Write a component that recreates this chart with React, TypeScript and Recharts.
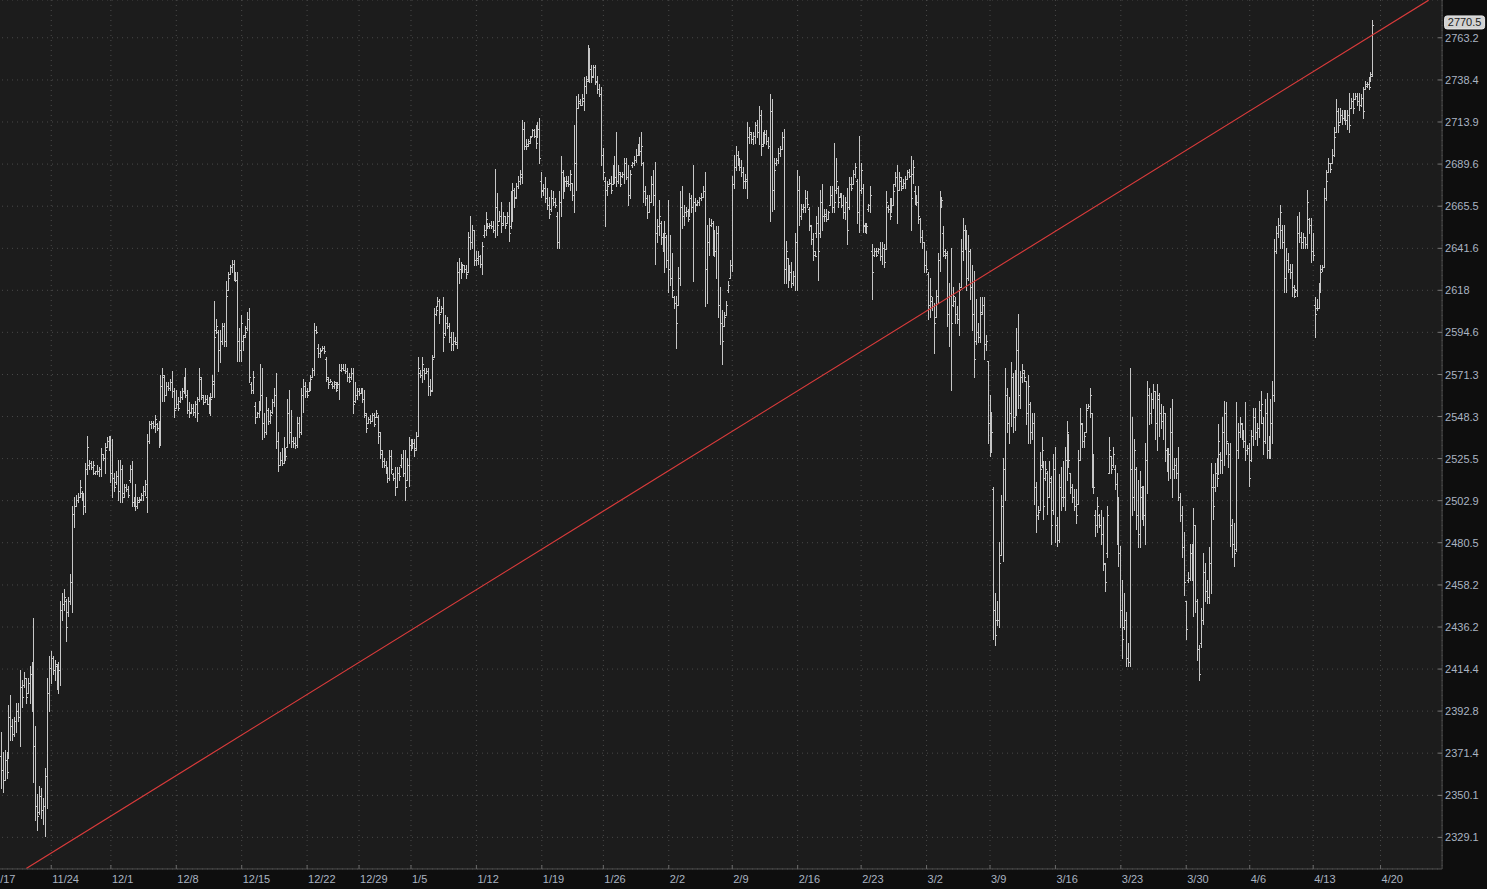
import React from "react";
import {
  ComposedChart,
  Bar,
  XAxis,
  YAxis,
  CartesianGrid,
  ReferenceLine,
} from "recharts";

// hourly bars, [open, high, low, close]
const novBars = [
  [2370, 2382, 2354, 2363], [2363, 2372, 2352, 2358], [2358, 2373, 2358, 2368], [2368, 2372, 2359, 2362],
  [2370, 2396, 2369, 2390], [2390, 2401, 2378, 2385], [2385, 2389, 2378, 2381], [2381, 2390, 2380, 2388],
  [2388, 2397, 2382, 2393], [2393, 2397, 2388, 2390], [2390, 2414, 2375, 2405], [2405, 2409, 2395, 2400],
  [2406, 2413, 2405, 2410], [2410, 2410, 2397, 2400], [2402, 2410, 2402, 2407], [2407, 2416, 2397, 2412],
  [2412, 2418, 2393, 2400], [2400, 2441, 2357, 2375], [2375, 2385, 2338, 2345], [2345, 2351, 2333, 2340],
  [2342, 2355, 2341, 2350], [2350, 2354, 2339, 2343], [2343, 2349, 2336, 2345], [2345, 2364, 2330, 2360],
  [2360, 2410, 2344, 2402], [2402, 2421, 2393, 2415], [2415, 2424, 2407, 2420], [2420, 2421, 2412, 2414],
  [2414, 2419, 2409, 2417], [2416, 2417, 2404, 2410], [2410, 2418, 2402, 2414], [2414, 2450, 2406, 2445],
  [2445, 2454, 2440, 2448], [2448, 2456, 2445, 2452], [2450, 2451, 2429, 2436], [2444, 2452, 2442, 2450],
  [2450, 2464, 2448, 2460], [2460, 2500, 2444, 2496], [2496, 2505, 2489, 2500], [2500, 2506, 2500, 2503],
  [2503, 2507, 2502, 2505], [2505, 2514, 2505, 2510], [2507, 2508, 2503, 2505], [2505, 2507, 2496, 2500],
  [2500, 2523, 2497, 2520], [2520, 2538, 2517, 2532], [2522, 2525, 2520, 2523], [2523, 2524, 2520, 2521],
  [2521, 2524, 2517, 2522], [2518, 2519, 2517, 2519], [2519, 2522, 2517, 2519], [2519, 2521, 2516, 2520],
  [2520, 2531, 2516, 2528], [2528, 2528, 2525, 2526], [2526, 2534, 2518, 2530], [2532, 2537, 2532, 2535],
  [2535, 2538, 2530, 2536], [2536, 2538, 2513, 2518],
];

const decBars = [
  [2518, 2536, 2505, 2515], [2515, 2518, 2508, 2510], [2513, 2519, 2512, 2516], [2516, 2525, 2503, 2508],
  [2508, 2525, 2502, 2520], [2520, 2522, 2502, 2505], [2507, 2512, 2505, 2510], [2510, 2512, 2508, 2509],
  [2509, 2511, 2505, 2506], [2514, 2522, 2513, 2520], [2520, 2524, 2500, 2502], [2502, 2505, 2500, 2504],
  [2504, 2512, 2498, 2500], [2500, 2505, 2499, 2503], [2502, 2505, 2502, 2503], [2504, 2507, 2503, 2506],
  [2506, 2511, 2503, 2508], [2508, 2514, 2506, 2512], [2505, 2539, 2497, 2535], [2535, 2546, 2534, 2544],
  [2544, 2546, 2542, 2545], [2545, 2546, 2542, 2543], [2543, 2549, 2540, 2547], [2544, 2545, 2541, 2542],
  [2542, 2546, 2532, 2535], [2535, 2571, 2533, 2565], [2565, 2575, 2557, 2571], [2570, 2571, 2557, 2560],
  [2560, 2567, 2560, 2565], [2565, 2567, 2563, 2564], [2564, 2569, 2563, 2567], [2567, 2573, 2559, 2562],
  [2562, 2564, 2548, 2552], [2553, 2563, 2553, 2555], [2555, 2559, 2552, 2553], [2557, 2562, 2556, 2559],
  [2559, 2564, 2558, 2562], [2562, 2570, 2561, 2567], [2567, 2575, 2559, 2560], [2560, 2563, 2550, 2552],
  [2552, 2556, 2548, 2550], [2551, 2555, 2550, 2553], [2553, 2555, 2549, 2551], [2551, 2557, 2548, 2555],
  [2555, 2559, 2546, 2550], [2558, 2575, 2557, 2570], [2569, 2570, 2558, 2560], [2559, 2560, 2555, 2556],
  [2556, 2560, 2556, 2558], [2558, 2560, 2555, 2555], [2555, 2559, 2550, 2552], [2552, 2561, 2549, 2558],
  [2559, 2571, 2559, 2568], [2566, 2612, 2559, 2592], [2596, 2602, 2594, 2598], [2595, 2596, 2573, 2585],
  [2585, 2596, 2578, 2590], [2590, 2600, 2588, 2598], [2598, 2600, 2587, 2590], [2590, 2623, 2587, 2615],
  [2618, 2628, 2618, 2625], [2627, 2632, 2627, 2631], [2631, 2635, 2628, 2633], [2633, 2635, 2624, 2626],
  [2626, 2628, 2623, 2624], [2624, 2628, 2579, 2590], [2590, 2597, 2579, 2585], [2585, 2604, 2579, 2600],
  [2590, 2593, 2585, 2592], [2593, 2598, 2592, 2595], [2597, 2606, 2596, 2602], [2602, 2608, 2567, 2570],
  [2566, 2567, 2561, 2563], [2563, 2573, 2561, 2570], [2554, 2556, 2545, 2548], [2548, 2551, 2548, 2550],
  [2550, 2557, 2548, 2555], [2555, 2577, 2552, 2560], [2560, 2575, 2536, 2545], [2545, 2550, 2537, 2540],
  [2540, 2559, 2539, 2552], [2552, 2553, 2544, 2546], [2546, 2552, 2545, 2549], [2551, 2558, 2550, 2556],
  [2556, 2564, 2554, 2560], [2560, 2572, 2531, 2535], [2535, 2540, 2519, 2522], [2522, 2529, 2522, 2525],
  [2525, 2531, 2522, 2523], [2523, 2537, 2523, 2530], [2530, 2531, 2525, 2527], [2532, 2558, 2532, 2550],
  [2550, 2563, 2534, 2540], [2540, 2552, 2532, 2535], [2535, 2537, 2532, 2534], [2534, 2537, 2531, 2533],
  [2533, 2548, 2532, 2545], [2545, 2548, 2537, 2540], [2540, 2564, 2539, 2560], [2560, 2569, 2551, 2565],
  [2565, 2567, 2559, 2562], [2562, 2564, 2559, 2560], [2562, 2567, 2562, 2565], [2565, 2571, 2563, 2569],
  [2570, 2575, 2570, 2574], [2574, 2600, 2571, 2596], [2596, 2598, 2594, 2595], [2586, 2588, 2581, 2583],
  [2583, 2586, 2581, 2584], [2585, 2587, 2585, 2586], [2586, 2587, 2583, 2584], [2580, 2581, 2568, 2570],
  [2569, 2570, 2564, 2566], [2567, 2569, 2567, 2568], [2566, 2567, 2564, 2565], [2565, 2568, 2564, 2567],
  [2566, 2567, 2562, 2563], [2564, 2567, 2564, 2566], [2566, 2577, 2558, 2574], [2574, 2577, 2573, 2575],
  [2575, 2577, 2574, 2574], [2574, 2577, 2572, 2573], [2573, 2575, 2568, 2570], [2570, 2572, 2567, 2568],
  [2570, 2575, 2569, 2572], [2572, 2575, 2550, 2555], [2557, 2567, 2556, 2560], [2560, 2564, 2558, 2562],
  [2562, 2564, 2560, 2561], [2561, 2564, 2561, 2563], [2563, 2564, 2556, 2558], [2558, 2563, 2548, 2550],
  [2549, 2550, 2540, 2542], [2545, 2548, 2545, 2547], [2547, 2549, 2545, 2546], [2546, 2550, 2546, 2549],
  [2549, 2550, 2543, 2544], [2548, 2552, 2548, 2550], [2548, 2549, 2534, 2540], [2538, 2540, 2526, 2530],
  [2528, 2530, 2521, 2524], [2524, 2526, 2521, 2522], [2522, 2524, 2518, 2520], [2520, 2521, 2513, 2515],
  [2515, 2530, 2514, 2527], [2527, 2530, 2518, 2520], [2517, 2518, 2514, 2515], [2515, 2521, 2506, 2510],
  [2510, 2521, 2510, 2518], [2518, 2521, 2514, 2516], [2522, 2528, 2521, 2526], [2526, 2530, 2516, 2518],
  [2518, 2530, 2503, 2510], [2514, 2526, 2514, 2522],
];

const janBars = [
  [2522, 2537, 2511, 2533], [2533, 2536, 2530, 2531], [2532, 2536, 2532, 2534], [2534, 2536, 2527, 2530],
  [2531, 2540, 2530, 2538], [2538, 2581, 2538, 2575], [2572, 2574, 2570, 2571], [2571, 2581, 2567, 2577],
  [2574, 2575, 2569, 2572], [2572, 2575, 2572, 2573], [2573, 2575, 2560, 2565], [2565, 2569, 2560, 2562],
  [2563, 2582, 2562, 2580], [2581, 2608, 2581, 2605], [2605, 2609, 2604, 2607], [2609, 2614, 2609, 2612],
  [2612, 2613, 2600, 2605], [2606, 2609, 2606, 2608], [2608, 2614, 2584, 2592], [2594, 2604, 2593, 2600],
  [2600, 2603, 2597, 2598], [2598, 2600, 2589, 2592], [2592, 2595, 2585, 2588], [2588, 2595, 2585, 2590],
  [2590, 2592, 2588, 2589], [2588, 2634, 2586, 2628], [2628, 2636, 2622, 2630], [2630, 2634, 2625, 2628],
  [2629, 2633, 2628, 2632], [2632, 2632, 2628, 2630], [2630, 2632, 2625, 2627], [2628, 2651, 2628, 2648],
  [2648, 2660, 2641, 2645], [2645, 2655, 2642, 2652], [2652, 2652, 2632, 2635], [2635, 2640, 2632, 2636],
  [2635, 2640, 2633, 2637], [2637, 2638, 2631, 2633], [2633, 2645, 2627, 2643], [2649, 2655, 2648, 2652],
  [2652, 2662, 2649, 2658], [2655, 2656, 2653, 2654], [2654, 2656, 2653, 2655], [2655, 2657, 2653, 2654],
  [2654, 2657, 2651, 2652], [2652, 2687, 2648, 2665], [2665, 2673, 2649, 2655], [2657, 2663, 2657, 2660],
  [2660, 2668, 2651, 2655], [2656, 2662, 2655, 2660], [2660, 2660, 2653, 2655], [2656, 2662, 2656, 2660],
  [2660, 2668, 2646, 2650], [2654, 2674, 2653, 2670], [2668, 2679, 2657, 2675], [2675, 2676, 2665, 2670],
  [2671, 2679, 2670, 2677], [2677, 2683, 2676, 2680], [2680, 2686, 2678, 2684], [2682, 2715, 2679, 2710],
  [2710, 2714, 2698, 2700], [2700, 2704, 2698, 2701], [2700, 2704, 2700, 2702], [2703, 2706, 2702, 2705],
  [2706, 2710, 2706, 2709], [2709, 2710, 2705, 2706], [2706, 2712, 2699, 2702], [2705, 2714, 2705, 2710],
  [2710, 2716, 2690, 2693], [2680, 2685, 2671, 2675], [2674, 2678, 2672, 2676], [2676, 2682, 2668, 2670],
  [2670, 2676, 2664, 2666], [2666, 2671, 2659, 2661], [2664, 2675, 2663, 2670], [2670, 2674, 2666, 2668],
  [2668, 2670, 2665, 2666], [2660, 2662, 2642, 2645], [2645, 2674, 2642, 2668], [2668, 2694, 2660, 2685],
  [2685, 2686, 2670, 2675], [2675, 2682, 2674, 2680], [2680, 2683, 2677, 2679], [2680, 2683, 2677, 2678],
  [2678, 2686, 2675, 2684], [2679, 2679, 2669, 2672], [2672, 2712, 2662, 2690], [2690, 2729, 2675, 2722],
  [2722, 2730, 2722, 2726], [2725, 2727, 2724, 2724], [2724, 2730, 2724, 2728], [2726, 2740, 2721, 2735],
  [2735, 2741, 2731, 2738], [2739, 2759, 2738, 2755], [2755, 2757, 2737, 2745], [2745, 2747, 2737, 2740],
  [2741, 2747, 2740, 2746], [2746, 2747, 2736, 2738], [2737, 2741, 2731, 2733], [2733, 2736, 2729, 2730],
  [2730, 2734, 2689, 2695], [2695, 2699, 2681, 2685], [2680, 2682, 2654, 2675], [2675, 2680, 2672, 2677],
  [2678, 2681, 2678, 2679], [2679, 2683, 2673, 2675], [2678, 2689, 2678, 2685], [2685, 2694, 2679, 2682],
  [2682, 2708, 2677, 2680], [2680, 2689, 2679, 2685], [2684, 2685, 2677, 2678], [2683, 2685, 2682, 2684],
  [2684, 2693, 2679, 2690], [2690, 2693, 2681, 2682], [2682, 2689, 2666, 2672], [2672, 2686, 2670, 2684],
  [2689, 2691, 2688, 2690], [2690, 2694, 2689, 2692], [2692, 2698, 2691, 2695], [2695, 2701, 2695, 2699],
  [2699, 2705, 2695, 2697], [2697, 2708, 2689, 2700], [2690, 2691, 2668, 2674], [2674, 2677, 2666, 2670],
  [2670, 2672, 2659, 2662], [2662, 2672, 2662, 2668], [2668, 2683, 2668, 2678], [2678, 2686, 2666, 2672],
  [2672, 2691, 2633, 2650], [2650, 2658, 2645, 2654], [2654, 2669, 2649, 2660], [2656, 2657, 2644, 2648],
  [2648, 2650, 2640, 2642], [2642, 2657, 2628, 2650], [2648, 2649, 2631, 2635], [2635, 2669, 2617, 2630],
  [2630, 2649, 2621, 2625], [2625, 2639, 2614, 2618], [2614, 2615, 2608, 2611],
];

const febBars = [
  [2611, 2615, 2586, 2600], [2610, 2631, 2610, 2625], [2625, 2674, 2621, 2665], [2665, 2677, 2653, 2660],
  [2660, 2666, 2655, 2662], [2662, 2665, 2660, 2663], [2663, 2664, 2657, 2658], [2661, 2673, 2660, 2670],
  [2670, 2672, 2662, 2665], [2665, 2689, 2623, 2668], [2668, 2670, 2663, 2666], [2667, 2669, 2666, 2668],
  [2668, 2671, 2666, 2670], [2670, 2673, 2669, 2671], [2671, 2677, 2671, 2674], [2674, 2685, 2609, 2630],
  [2630, 2655, 2611, 2645], [2645, 2659, 2638, 2655], [2655, 2658, 2654, 2656], [2656, 2657, 2638, 2645],
  [2645, 2652, 2637, 2640], [2640, 2654, 2625, 2650], [2650, 2654, 2603, 2610], [2610, 2620, 2588, 2600],
  [2600, 2607, 2577, 2590], [2598, 2606, 2598, 2603], [2604, 2612, 2604, 2610], [2618, 2623, 2617, 2621],
  [2625, 2635, 2625, 2632], [2632, 2683, 2629, 2678], [2678, 2695, 2676, 2688], [2688, 2700, 2686, 2695],
  [2695, 2697, 2689, 2692], [2692, 2693, 2686, 2688], [2688, 2692, 2683, 2685], [2685, 2688, 2676, 2680],
  [2680, 2684, 2676, 2681], [2680, 2714, 2670, 2705], [2705, 2711, 2702, 2708], [2707, 2708, 2702, 2704],
  [2704, 2708, 2701, 2706], [2706, 2714, 2702, 2712], [2712, 2715, 2705, 2708], [2708, 2723, 2701, 2718],
  [2718, 2721, 2695, 2700], [2701, 2708, 2700, 2705], [2705, 2709, 2702, 2707], [2707, 2709, 2701, 2703],
  [2703, 2705, 2699, 2700], [2700, 2730, 2657, 2720], [2720, 2727, 2663, 2675], [2675, 2693, 2664, 2686],
  [2690, 2693, 2689, 2692], [2692, 2699, 2690, 2696], [2696, 2700, 2694, 2698], [2698, 2708, 2698, 2705],
  [2705, 2710, 2622, 2630], [2630, 2646, 2622, 2640], [2636, 2636, 2620, 2625], [2625, 2632, 2624, 2628],
  [2628, 2634, 2620, 2622], [2622, 2629, 2621, 2626], [2626, 2650, 2618, 2645], [2645, 2686, 2618, 2675],
  [2675, 2683, 2655, 2660], [2660, 2667, 2658, 2664], [2664, 2667, 2662, 2665], [2665, 2675, 2662, 2670],
  [2670, 2674, 2665, 2667], [2664, 2665, 2652, 2655], [2654, 2655, 2644, 2647], [2647, 2650, 2635, 2640],
  [2638, 2640, 2637, 2637], [2650, 2660, 2648, 2656], [2656, 2665, 2624, 2640], [2650, 2675, 2648, 2668],
  [2668, 2678, 2652, 2660], [2660, 2664, 2657, 2661], [2660, 2664, 2657, 2658], [2658, 2663, 2658, 2662],
  [2666, 2677, 2666, 2672], [2672, 2677, 2662, 2665], [2665, 2702, 2662, 2668], [2675, 2693, 2673, 2680],
  [2676, 2677, 2665, 2668], [2671, 2673, 2671, 2672], [2672, 2673, 2665, 2666], [2666, 2672, 2659, 2662],
  [2662, 2671, 2658, 2668], [2668, 2676, 2644, 2652], [2665, 2682, 2664, 2678], [2678, 2682, 2675, 2676],
  [2678, 2686, 2678, 2684], [2684, 2690, 2682, 2688], [2680, 2681, 2656, 2662], [2662, 2706, 2651, 2675],
  [2675, 2690, 2673, 2686], [2676, 2678, 2651, 2655], [2654, 2656, 2651, 2652], [2652, 2656, 2650, 2654],
  [2664, 2667, 2663, 2666], [2666, 2677, 2662, 2672], [2640, 2644, 2613, 2628], [2638, 2642, 2637, 2640],
  [2640, 2642, 2637, 2638], [2640, 2642, 2639, 2641], [2641, 2645, 2635, 2637], [2637, 2645, 2633, 2642],
  [2642, 2644, 2631, 2634], [2641, 2674, 2641, 2668], [2665, 2666, 2662, 2664], [2664, 2670, 2658, 2660],
  [2662, 2670, 2662, 2666], [2666, 2678, 2666, 2674], [2678, 2685, 2677, 2682], [2682, 2689, 2656, 2675],
  [2675, 2685, 2675, 2682], [2680, 2682, 2675, 2676], [2677, 2681, 2676, 2679], [2679, 2683, 2676, 2681],
  [2681, 2686, 2681, 2685], [2685, 2687, 2682, 2683], [2683, 2694, 2652, 2670], [2684, 2692, 2679, 2688],
  [2674, 2677, 2667, 2670], [2670, 2672, 2666, 2668], [2668, 2677, 2656, 2660], [2658, 2659, 2645, 2648],
  [2648, 2652, 2642, 2645], [2645, 2645, 2628, 2632], [2632, 2640, 2628, 2630], [2627, 2628, 2602, 2610],
  [2610, 2625, 2603, 2615], [2612, 2614, 2607, 2609], [2609, 2611, 2583, 2600],
];

const marBars = [
  [2603, 2618, 2603, 2615], [2615, 2639, 2611, 2635], [2635, 2674, 2629, 2668], [2666, 2671, 2665, 2669],
  [2650, 2654, 2637, 2640], [2638, 2641, 2636, 2639], [2638, 2640, 2598, 2605], [2605, 2622, 2587, 2615],
  [2615, 2642, 2563, 2600], [2610, 2620, 2609, 2615], [2612, 2614, 2600, 2605], [2605, 2609, 2600, 2602],
  [2602, 2622, 2593, 2618], [2620, 2647, 2620, 2640], [2640, 2659, 2635, 2652], [2652, 2655, 2641, 2645],
  [2645, 2652, 2618, 2625], [2625, 2649, 2624, 2640], [2640, 2641, 2613, 2620], [2620, 2632, 2596, 2605],
  [2605, 2629, 2570, 2580], [2590, 2613, 2588, 2595], [2595, 2600, 2589, 2592], [2592, 2614, 2589, 2605],
  [2606, 2614, 2605, 2610], [2610, 2614, 2580, 2588], [2588, 2593, 2585, 2590], [2579, 2579, 2534, 2545],
  [2545, 2560, 2527, 2535], [2535, 2551, 2529, 2540], [2509, 2510, 2430, 2445], [2445, 2454, 2427, 2432],
  [2440, 2450, 2437, 2440], [2440, 2481, 2436, 2470], [2474, 2506, 2474, 2500], [2500, 2526, 2471, 2520],
  [2520, 2575, 2503, 2560], [2560, 2564, 2540, 2545], [2545, 2559, 2534, 2550], [2550, 2578, 2543, 2570],
  [2570, 2572, 2540, 2548], [2548, 2574, 2541, 2565], [2565, 2597, 2549, 2585], [2585, 2605, 2553, 2560],
  [2560, 2573, 2553, 2570], [2570, 2577, 2567, 2574], [2572, 2574, 2568, 2570], [2568, 2568, 2544, 2550],
  [2550, 2571, 2534, 2565], [2555, 2556, 2534, 2540], [2540, 2550, 2536, 2545], [2545, 2550, 2501, 2510],
  [2510, 2513, 2486, 2495], [2495, 2500, 2493, 2497], [2498, 2529, 2498, 2520], [2522, 2537, 2521, 2530],
  [2522, 2524, 2493, 2500], [2515, 2524, 2514, 2520], [2518, 2519, 2496, 2505], [2505, 2524, 2505, 2515],
  [2513, 2516, 2480, 2490], [2498, 2528, 2496, 2520], [2520, 2532, 2481, 2490], [2490, 2494, 2479, 2482],
  [2482, 2517, 2481, 2510], [2510, 2521, 2498, 2505], [2505, 2524, 2500, 2505], [2505, 2532, 2498, 2525],
  [2525, 2546, 2514, 2540], [2538, 2539, 2521, 2525], [2518, 2518, 2507, 2510], [2510, 2512, 2502, 2505],
  [2505, 2509, 2498, 2500], [2500, 2509, 2491, 2495], [2501, 2530, 2501, 2525], [2525, 2553, 2525, 2545],
  [2544, 2545, 2532, 2535], [2535, 2540, 2532, 2538], [2540, 2555, 2540, 2552], [2553, 2555, 2553, 2554],
  [2554, 2564, 2548, 2560], [2550, 2550, 2510, 2515], [2515, 2528, 2507, 2510], [2495, 2498, 2484, 2490],
  [2490, 2505, 2486, 2500], [2495, 2496, 2489, 2490], [2490, 2498, 2480, 2485], [2485, 2494, 2466, 2470],
  [2469, 2470, 2455, 2460], [2475, 2500, 2473, 2495], [2518, 2537, 2518, 2530], [2527, 2527, 2518, 2520],
  [2522, 2532, 2521, 2528], [2520, 2522, 2509, 2512], [2512, 2518, 2480, 2490], [2490, 2505, 2468, 2475],
  [2475, 2479, 2436, 2445], [2445, 2461, 2420, 2430], [2436, 2454, 2435, 2440], [2440, 2444, 2416, 2420],
  [2420, 2428, 2416, 2418], [2418, 2575, 2416, 2520], [2520, 2548, 2495, 2505], [2505, 2536, 2498, 2530],
  [2520, 2521, 2488, 2495], [2495, 2514, 2478, 2485], [2485, 2519, 2478, 2510], [2505, 2511, 2493, 2500],
  [2500, 2511, 2490, 2495], [2495, 2534, 2480, 2525], [2525, 2568, 2507, 2560], [2560, 2564, 2544, 2550],
  [2550, 2561, 2545, 2558], [2558, 2566, 2553, 2562], [2562, 2562, 2536, 2545], [2545, 2566, 2530, 2560],
  [2558, 2561, 2538, 2550], [2550, 2555, 2542, 2546], [2546, 2554, 2536, 2550], [2550, 2550, 2524, 2530],
  [2530, 2531, 2519, 2524], [2524, 2531, 2514, 2528], [2528, 2553, 2515, 2540], [2540, 2558, 2505, 2520],
  [2520, 2526, 2515, 2522], [2522, 2526, 2515, 2518], [2518, 2532, 2503, 2505], [2505, 2507, 2492, 2495],
  [2495, 2500, 2473, 2478], [2478, 2486, 2453, 2460], [2450, 2450, 2430, 2435], [2461, 2465, 2460, 2462],
  [2462, 2480, 2461, 2475], [2475, 2480, 2461, 2465], [2465, 2499, 2442, 2490], [2490, 2490, 2444, 2450],
  [2450, 2451, 2419, 2425], [2425, 2427, 2409, 2412], [2428, 2446, 2426, 2440],
];

const aprBars = [
  [2440, 2475, 2438, 2465], [2465, 2470, 2450, 2455], [2455, 2461, 2449, 2452], [2452, 2478, 2449, 2470],
  [2470, 2523, 2454, 2510], [2510, 2517, 2493, 2500], [2510, 2523, 2508, 2518], [2518, 2526, 2511, 2515],
  [2518, 2544, 2517, 2535], [2528, 2529, 2518, 2525], [2525, 2548, 2518, 2540], [2540, 2557, 2522, 2550],
  [2550, 2556, 2528, 2535], [2534, 2534, 2521, 2528], [2528, 2534, 2479, 2490], [2490, 2493, 2473, 2480],
  [2480, 2491, 2468, 2475], [2477, 2556, 2476, 2530], [2530, 2545, 2526, 2540], [2540, 2548, 2537, 2545],
  [2544, 2545, 2536, 2540], [2540, 2541, 2532, 2535], [2535, 2556, 2525, 2530], [2530, 2533, 2528, 2531],
  [2531, 2534, 2511, 2515], [2525, 2541, 2524, 2538], [2538, 2553, 2533, 2548], [2548, 2553, 2536, 2540],
  [2540, 2545, 2533, 2542], [2542, 2557, 2537, 2552], [2552, 2562, 2545, 2555], [2545, 2548, 2528, 2535],
  [2535, 2558, 2534, 2550], [2550, 2561, 2526, 2530], [2530, 2538, 2526, 2535], [2535, 2558, 2526, 2545],
  [2545, 2568, 2534, 2560], [2560, 2647, 2557, 2640], [2640, 2654, 2639, 2650], [2650, 2659, 2648, 2655],
  [2655, 2666, 2642, 2662], [2652, 2655, 2642, 2645], [2645, 2655, 2617, 2625], [2625, 2642, 2617, 2635],
  [2635, 2639, 2628, 2630], [2630, 2633, 2625, 2628], [2628, 2633, 2615, 2620], [2620, 2621, 2614, 2615],
  [2617, 2619, 2617, 2618], [2618, 2660, 2615, 2650], [2650, 2662, 2645, 2648], [2648, 2651, 2642, 2645],
  [2645, 2650, 2642, 2648], [2648, 2648, 2642, 2644], [2644, 2675, 2642, 2668], [2658, 2659, 2650, 2655],
  [2655, 2659, 2634, 2640], [2640, 2650, 2635, 2638], [2610, 2614, 2592, 2605], [2608, 2613, 2607, 2608],
  [2608, 2622, 2608, 2618], [2618, 2632, 2617, 2628], [2630, 2632, 2629, 2631], [2631, 2676, 2631, 2670],
  [2670, 2686, 2669, 2680], [2685, 2693, 2685, 2690], [2690, 2690, 2685, 2687], [2690, 2698, 2690, 2695],
  [2695, 2711, 2694, 2705], [2708, 2727, 2708, 2720], [2720, 2722, 2708, 2712], [2714, 2722, 2714, 2718],
  [2718, 2721, 2713, 2716], [2716, 2721, 2715, 2719], [2719, 2721, 2713, 2715], [2715, 2721, 2710, 2718],
  [2718, 2731, 2708, 2712], [2722, 2728, 2722, 2726], [2726, 2731, 2719, 2722], [2727, 2731, 2727, 2729],
  [2729, 2731, 2724, 2726], [2726, 2731, 2721, 2724], [2724, 2730, 2723, 2728], [2728, 2734, 2716, 2720],
  [2733, 2738, 2733, 2736], [2735, 2737, 2734, 2736], [2736, 2740, 2733, 2734], [2739, 2743, 2738, 2741],
  [2742, 2774, 2741, 2770.5],
];

// week starts, as bar positions
const weekIdx = [-7, 26, 57, 91, 125, 159, 186, 213, 247, 281, 313, 347, 380, 414, 447, 481, 514, 548, 582, 616, 649, 682, 717];
const weekLabels = ["11/17", "11/24", "12/1", "12/8", "12/15", "12/22", "12/29", "1/5", "1/12", "1/19", "1/26", "2/2", "2/9", "2/16", "2/23", "3/2", "3/9", "3/16", "3/23", "3/30", "4/6", "4/13", "4/20"];

const yTicks = [2763.2, 2738.4, 2713.9, 2689.6, 2665.5, 2641.6, 2618, 2594.6, 2571.3, 2548.3, 2525.5, 2502.9, 2480.5, 2458.2, 2436.2, 2414.4, 2392.8, 2371.4, 2350.1, 2329.1];

const trendStart = { x: 13, y: 2313.7 };
const trendEnd = { x: 742, y: 2785.5 };

const allBars = [...novBars, ...decBars, ...janBars, ...febBars, ...marBars, ...aprBars];
const data = allBars.map((b, i) => ({ i, o: b[0], h: b[1], l: b[2], c: b[3], range: [b[2], b[1]] }));
const lastClose = data[data.length - 1].c;

const labelColor = "#aab4c2";
const axisColor = "#505050";

function OhlcShape(props: any) {
  const { x, y, width, height, payload } = props;
  if (x == null || y == null || !payload) return null;
  const top = Math.min(y, y + height);
  const bottom = Math.max(y, y + height);
  const lh = Math.log(payload.h);
  const ll = Math.log(payload.l);
  const toY = (v: number) => {
    const cl = Math.min(Math.max(v, payload.l), payload.h);
    return top + ((bottom - top) * (lh - Math.log(cl))) / (lh - ll || 1);
  };
  const cx = Math.round(x + width / 2) + 0.5;
  const yo = Math.round(toY(payload.o)) + 0.5;
  const yc = Math.round(toY(payload.c)) + 0.5;
  return (
    <g stroke="#c6c6c6" strokeWidth={1} shapeRendering="crispEdges">
      <line x1={cx} x2={cx} y1={Math.round(top)} y2={Math.round(bottom) + 1} />
      <line x1={cx - 1.5} x2={cx} y1={yo} y2={yo} />
      <line x1={cx} x2={cx + 1.5} y1={yc} y2={yc} />
    </g>
  );
}

function DateTick(props: any) {
  const { x, y, payload } = props;
  const k = weekIdx.indexOf(payload.value);
  return (
    <g>
      <line x1={x} x2={x} y1={y - 4} y2={y} stroke="#6a6a6a" />
      <text x={x + 1} y={y + 10.5} fill={labelColor} fontSize={11} fontFamily="'Liberation Sans', Arial, sans-serif" dominantBaseline="central">
        {k >= 0 ? weekLabels[k] : ""}
      </text>
    </g>
  );
}

function PriceTick(props: any) {
  const { x, y, payload } = props;
  return (
    <g>
      <line x1={x - 4} x2={x} y1={y} y2={y} stroke="#7a7a7a" />
      <text x={x + 3} y={y} fill={labelColor} fontSize={11} fontFamily="'Liberation Sans', Arial, sans-serif" dominantBaseline="central">
        {String(payload.value)}
      </text>
    </g>
  );
}

function PriceBadge(props: any) {
  const vb = props.viewBox;
  if (!vb) return null;
  const bx = vb.x + vb.width + 2.5;
  const cy = vb.y - 3;
  return (
    <g>
      <rect x={bx} y={cy - 6.5} width={40} height={13} rx={2.5} fill="#d2d2d2" stroke="#e6e6e6" />
      <text x={bx + 20} y={cy} textAnchor="middle" dominantBaseline="central" fill="#1b1b1b" fontSize={11} fontFamily="'Liberation Sans', Arial, sans-serif">
        {lastClose.toFixed(1)}
      </text>
    </g>
  );
}

export default function App() {
  return (
    <div style={{ position: "fixed", left: 0, top: 0, width: 1487, height: 889, background: "#0e0e0e", overflow: "hidden" }}>
      <div style={{ position: "absolute", left: -18.5, top: 0 }}>
        <ComposedChart width={1506.1} height={889} data={data} margin={{ top: 0, right: 0, bottom: 0, left: 0 }}>
          <CartesianGrid stroke="#4a4a4a" strokeDasharray="1 4" fill="#1c1c1c" />
          <XAxis
            dataKey="i"
            type="number"
            domain={[-10, 749]}
            allowDataOverflow
            ticks={weekIdx}
            interval={0}
            height={20}
            tickSize={0}
            tickMargin={0}
            axisLine={{ stroke: axisColor }}
            tick={<DateTick />}
          />
          <YAxis
            orientation="right"
            type="number"
            scale="log"
            domain={[2313.4, 2785.6]}
            allowDataOverflow
            ticks={yTicks}
            interval={0}
            width={46}
            tickSize={0}
            tickMargin={0}
            axisLine={{ stroke: axisColor }}
            tick={<PriceTick />}
          />
          <Bar dataKey="range" barSize={1} isAnimationActive={false} shape={(p: any) => <OhlcShape {...p} />} />
          <ReferenceLine segment={[trendStart, trendEnd]} stroke="#d93b3b" strokeWidth={1.2} ifOverflow="visible" />
          <ReferenceLine y={lastClose} stroke="none" ifOverflow="visible" label={(p: any) => <PriceBadge {...p} />} />
        </ComposedChart>
      </div>
    </div>
  );
}
